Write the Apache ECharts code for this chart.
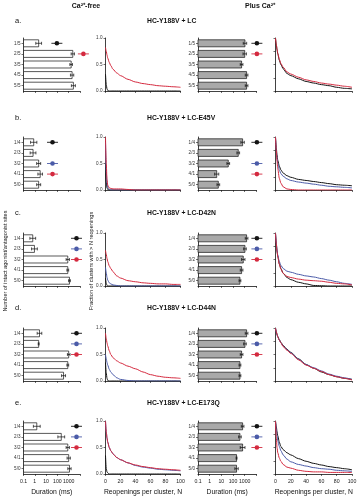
<!DOCTYPE html>
<html><head><meta charset="utf-8">
<script src="https://cdn.jsdelivr.net/npm/echarts@6/dist/echarts.min.js"></script>
<style>html,body{margin:0;padding:0;background:#fff}#c{width:360px;height:499px}</style>
</head><body><div id="c"></div>
<script>
// ---------- text ----------
const rowLetters = ['a.','b.','c.','d.','e.'];
const rowTitles = ['HC-Y188V + LC','HC-Y188V + LC-E45V','HC-Y188V + LC-D42N','HC-Y188V + LC-D44N','HC-Y188V + LC-E173Q'];
const catsA = ['1/5','2/5','3/5','4/5','5/5'];
const catsMut = ['1/4','2/3','3/2','4/1','5/0'];
// ---------- Ca-free durations (ms) and error factors ----------
const freeDurA = [2.2, 2300, 1650, 2000, 2600];  const freeErrA = [1.8,1.4,1.3,1.4,1.5];
const freeDurB = [0.8, 0.7, 2.2, 3.0, 2.2];       const freeErrB = [1.9,1.8,1.5,1.6,1.5];
const freeDurC = [0.66, 0.93, 830, 830, 1170];    const freeErrC = [1.8,1.8,1.4,1.2,1.2];
const freeDurD = [2.6, 2.2, 1000, 830, 350];      const freeErrD = [1.6,1.1,1.3,1.2,1.5];
const freeDurE = [1.5, 220, 830, 1000, 1170];     const freeErrE = [2.0,2.0,1.4,1.4,1.4];
// ---------- Plus Ca durations (ms) ----------
const plusDurA = [1050, 1000, 540, 1450, 1450];   const plusErrA = [1.4,1.4,1.3,1.3,1.3];
const plusDurB = [660, 280, 39, 4, 5.5];          const plusErrB = [1.4,1.3,1.3,1.5,1.3];
const plusDurC = [1450, 1050, 750, 540, 390];     const plusErrC = [1.3,1.3,1.4,1.3,1.2];
const plusDurD = [1450, 1050, 540, 390, 390];     const plusErrD = [1.3,1.3,1.3,1.2,1.2];
const plusDurE = [660, 390, 660, 200, 200];       const plusErrE = [1.3,1.3,1.6,1.1,1.4];
// ---------- key markers: [row, duration, colour key] ----------
const freeMarkA = [[0,90,'k'],[1,20000,'r']];
const freeMarkB = [[0,37,'k'],[2,37,'b'],[3,37,'r']];
const freeMarkC = [[0,4900,'k'],[1,4900,'b'],[2,4900,'r']];
const freeMarkD = [[0,4900,'k'],[1,4900,'b'],[2,4900,'r']];
const freeMarkE = [[0,4900,'k'],[1,4900,'b'],[2,4900,'r']];
const plusMarkA = [[0,11000,'k'],[1,11000,'r']];
const plusMarkB = [[0,11000,'k'],[2,11000,'b'],[3,11000,'r']];
const plusMarkC = [[0,11000,'k'],[1,11000,'b'],[2,11000,'r']];
const plusMarkD = [[0,11000,'k'],[1,11000,'b'],[2,11000,'r']];
const plusMarkE = [[0,11000,'k'],[1,11000,'b'],[2,11000,'r']];
// ---------- survival curves: fraction of clusters with > N reopenings ----------
const nPts = [0,1,2,3,5,7,10,15,20,30,40,50,60,70,80,90,100];
const freeA_k = [0.32,0.12,0.04,0.01,0,0,0,0,0,0,0,0,0,0,0,0,0];
const freeA_r = [0.82,0.75,0.68,0.62,0.54,0.48,0.41,0.34,0.29,0.22,0.17,0.14,0.12,0.10,0.09,0.08,0.07];
const plusA_k = [1.0,0.88,0.78,0.70,0.58,0.50,0.42,0.33,0.29,0.23,0.18,0.15,0.12,0.10,0.07,0.05,0.04];
const plusA_r = [1.0,0.88,0.79,0.71,0.60,0.52,0.45,0.36,0.32,0.26,0.21,0.18,0.15,0.13,0.11,0.09,0.07];
const freeB_k = [0.5,0.15,0.04,0.01,0,0,0,0,0,0,0,0,0,0,0,0,0];
const freeB_b = [0.9,0.35,0.12,0.05,0.01,0,0,0,0,0,0,0,0,0,0,0,0];
const freeB_r = [1.0,0.5,0.2,0.09,0.04,0.03,0.02,0.02,0.02,0.01,0,0,0,0,0,0,0];
const plusB_k = [1.0,0.80,0.66,0.56,0.45,0.38,0.32,0.27,0.24,0.20,0.18,0.16,0.14,0.12,0.10,0.09,0.08];
const plusB_b = [1.0,0.76,0.60,0.50,0.38,0.31,0.26,0.21,0.18,0.15,0.13,0.11,0.09,0.07,0.06,0.05,0.04];
const plusB_r = [1.0,0.75,0.55,0.40,0.22,0.13,0.06,0.02,0.01,0,0,0,0,0,0,0,0];
const freeC_k = [0.15,0.05,0.01,0,0,0,0,0,0,0,0,0,0,0,0,0,0];
const freeC_b = [0.35,0.25,0.16,0.11,0.06,0.04,0.02,0.01,0,0,0,0,0,0,0,0,0];
const freeC_r = [0.67,0.60,0.52,0.46,0.38,0.33,0.27,0.19,0.15,0.10,0.08,0.06,0.05,0.04,0.04,0.03,0.03];
const plusC_k = [1.0,0.80,0.66,0.56,0.42,0.33,0.24,0.16,0.12,0.07,0.04,0.01,0.005,0,0,0,0];
const plusC_b = [1.0,0.82,0.68,0.58,0.46,0.39,0.33,0.28,0.26,0.22,0.19,0.17,0.14,0.11,0.08,0.05,0.03];
const plusC_r = [1.0,0.80,0.65,0.55,0.41,0.32,0.24,0.18,0.16,0.13,0.11,0.10,0.09,0.07,0.05,0.04,0.02];
const freeD_k = [0.35,0.15,0.05,0.01,0,0,0,0,0,0,0,0,0,0,0,0,0];
const freeD_b = [0.5,0.42,0.35,0.30,0.22,0.17,0.12,0.06,0.03,0.01,0,0,0,0,0,0,0];
const freeD_r = [0.9,0.80,0.72,0.66,0.57,0.50,0.44,0.38,0.34,0.28,0.23,0.17,0.12,0.09,0.07,0.06,0.05];
const plusD_k = [1.0,0.93,0.88,0.84,0.78,0.73,0.67,0.60,0.54,0.42,0.31,0.24,0.17,0.12,0.08,0.05,0.03];
const plusD_b = [1.0,0.92,0.87,0.83,0.77,0.72,0.66,0.59,0.53,0.41,0.31,0.25,0.19,0.13,0.09,0.06,0.03];
const plusD_r = [1.0,0.93,0.88,0.83,0.77,0.72,0.65,0.58,0.52,0.40,0.30,0.24,0.18,0.12,0.08,0.05,0.02];
const freeE_k = [0.35,0.1,0.04,0.02,0,0,0,0,0,0,0,0,0,0,0,0,0];
const freeE_b = [1.0,0.80,0.68,0.60,0.50,0.44,0.38,0.31,0.27,0.21,0.16,0.13,0.11,0.09,0.08,0.07,0.06];
const freeE_r = [1.0,0.80,0.68,0.60,0.50,0.44,0.38,0.31,0.27,0.21,0.17,0.14,0.12,0.10,0.09,0.08,0.07];
const plusE_k = [1.0,0.90,0.80,0.72,0.60,0.52,0.46,0.40,0.36,0.29,0.24,0.20,0.17,0.14,0.12,0.10,0.08];
const plusE_b = [1.0,0.85,0.72,0.63,0.52,0.44,0.36,0.28,0.23,0.18,0.15,0.12,0.10,0.09,0.07,0.06,0.05];
const plusE_r = [1.0,0.70,0.50,0.40,0.30,0.24,0.18,0.13,0.11,0.07,0.05,0.04,0.04,0.03,0.03,0.03,0.03];

// ---------- layout / style ----------
const FONT = "'Liberation Sans', Arial, sans-serif";
const COL = {k:'#141414', b:'#4b5ba8', r:'#d42a3f'};
const rowTop = [38, 137, 233, 328, 421];
const rowH = 53;
const grids = [], xAxes = [], yAxes = [], series = [];

function axLine(){ return {show:true, lineStyle:{color:'#111', width:0.8}}; }
function axTick(){ return {show:true, length:2, lineStyle:{color:'#111', width:0.6}}; }

function barPanel(r, left, width, cats, vals, errs, marks, fill){
  const gi = grids.length, last = (r === 4);
  grids.push({left:left, top:rowTop[r], width:width, height:rowH});
  xAxes.push({gridIndex:gi, type:'log', logBase:10, min:0.1, max:10000, splitNumber:5,
    axisLine:axLine(), axisTick:axTick(), splitLine:{show:false},
    axisLabel:{show:last, fontSize:5.2, color:'#222', fontFamily:FONT, margin:5,
      formatter:function(v){ return v >= 9999 ? '' : (v < 1 ? '0.1' : String(Math.round(v))); }},
    name: last ? 'Duration (ms)' : '', nameLocation:'middle', nameGap:15,
    nameTextStyle:{fontSize:6.8, fontFamily:FONT, color:'#111'}});
  yAxes.push({gridIndex:gi, type:'category', data:cats, inverse:true,
    axisLine:axLine(), axisTick:Object.assign(axTick(), {alignWithLabel:true}),
    axisLabel:{fontSize:4.6, color:'#333', fontFamily:FONT, margin:3}, splitLine:{show:false}});
  series.push({type:'custom', xAxisIndex:gi, yAxisIndex:gi, silent:true,
    data: vals.map(function(v,i){ return [i, v]; }), encode:{x:1, y:0},
    renderItem:function(p, api){
      const c = api.value(0), v = api.value(1);
      const a = api.coord([0.1, c]), b = api.coord([v, c]);
      const band = Math.abs(api.coord([1,1])[1] - api.coord([1,0])[1]);
      const h = band * 0.66;
      return {type:'rect', shape:{x:a[0], y:a[1]-h/2, width:b[0]-a[0], height:h},
        style:{fill:fill, stroke:'#111', lineWidth:0.7}};
    }});
  series.push({type:'custom', xAxisIndex:gi, yAxisIndex:gi, silent:true,
    data: vals.map(function(v,i){ return [i, v/errs[i], v*errs[i]]; }), encode:{x:[1,2], y:0},
    renderItem:function(p, api){
      const c = api.value(0);
      const lo = api.coord([api.value(1), c]), hi = api.coord([api.value(2), c]);
      const s = {stroke:'#111', lineWidth:0.7};
      return {type:'group', children:[
        {type:'line', shape:{x1:lo[0], y1:lo[1], x2:hi[0], y2:hi[1]}, style:s},
        {type:'line', shape:{x1:hi[0], y1:hi[1]-1.5, x2:hi[0], y2:hi[1]+1.5}, style:s},
        {type:'line', shape:{x1:lo[0], y1:lo[1]-1.5, x2:lo[0], y2:lo[1]+1.5}, style:s}
      ]};
    }});
  series.push({type:'custom', xAxisIndex:gi, yAxisIndex:gi, silent:true, clip:false,
    data: marks.map(function(m){ return {value:[m[0], m[1]], itemStyle:{color:COL[m[2]]}}; }), encode:{x:1, y:0},
    renderItem:function(p, api){
      const pt = api.coord([api.value(1), api.value(0)]);
      const col = api.visual('color');
      return {type:'group', children:[
        {type:'line', shape:{x1:pt[0]-5.5, y1:pt[1], x2:pt[0]+5.5, y2:pt[1]}, style:{stroke:col, lineWidth:0.9}},
        {type:'circle', shape:{cx:pt[0], cy:pt[1], r:2.3}, style:{fill:col}}
      ]};
    }});
}

function curvePanel(r, left, width, curves, showY){
  const gi = grids.length, last = (r === 4);
  grids.push({left:left, top:rowTop[r], width:width, height:rowH});
  xAxes.push({gridIndex:gi, type:'value', min:0, max:100, interval:20,
    axisLine:axLine(), axisTick:axTick(), splitLine:{show:false},
    axisLabel:{show:last, fontSize:5.2, color:'#222', fontFamily:FONT, margin:5},
    name: last ? 'Reopenings per cluster, N' : '', nameLocation:'middle', nameGap:15,
    nameTextStyle:{fontSize:6.8, fontFamily:FONT, color:'#111'}});
  yAxes.push({gridIndex:gi, type:'value', min:0, max:1, interval: showY ? 0.5 : 0.25,
    axisLine:axLine(), axisTick:axTick(), splitLine:{show:false},
    axisLabel:{show:showY, fontSize:4.6, color:'#333', fontFamily:FONT, margin:3,
      formatter:function(v){ return v.toFixed(1); }}});
  curves.forEach(function(cv){
    series.push({type:'line', xAxisIndex:gi, yAxisIndex:gi, silent:true,
      data: nPts.map(function(n,i){ return [n, cv[0][i]]; }),
      showSymbol:false, symbol:'none', smooth:0.25, smoothMonotone:'x',
      lineStyle:{color:COL[cv[1]], width:1}});
  });
}

const freeDur = [freeDurA, freeDurB, freeDurC, freeDurD, freeDurE];
const freeErr = [freeErrA, freeErrB, freeErrC, freeErrD, freeErrE];
const plusDur = [plusDurA, plusDurB, plusDurC, plusDurD, plusDurE];
const plusErr = [plusErrA, plusErrB, plusErrC, plusErrD, plusErrE];
const freeMark = [freeMarkA, freeMarkB, freeMarkC, freeMarkD, freeMarkE];
const plusMark = [plusMarkA, plusMarkB, plusMarkC, plusMarkD, plusMarkE];
const freeCurves = [
  [[freeA_k,'k'],[freeA_r,'r']],
  [[freeB_k,'k'],[freeB_b,'b'],[freeB_r,'r']],
  [[freeC_k,'k'],[freeC_b,'b'],[freeC_r,'r']],
  [[freeD_k,'k'],[freeD_b,'b'],[freeD_r,'r']],
  [[freeE_k,'k'],[freeE_b,'b'],[freeE_r,'r']]
];
const plusCurves = [
  [[plusA_k,'k'],[plusA_r,'r']],
  [[plusB_k,'k'],[plusB_b,'b'],[plusB_r,'r']],
  [[plusC_k,'k'],[plusC_b,'b'],[plusC_r,'r']],
  [[plusD_k,'k'],[plusD_b,'b'],[plusD_r,'r']],
  [[plusE_k,'k'],[plusE_b,'b'],[plusE_r,'r']]
];

for (let r = 0; r < 5; r++) {
  const cats = r === 0 ? catsA : catsMut;
  barPanel(r, 23.5, 56.5, cats, freeDur[r], freeErr[r], freeMark[r], '#ffffff');
  curvePanel(r, 105.5, 75, freeCurves[r], true);
  barPanel(r, 198, 58.4, cats, plusDur[r], plusErr[r], plusMark[r], '#a9a9a9');
  curvePanel(r, 275.5, 76.5, plusCurves[r], false);
}

const rowTextY = [21, 118, 213, 308, 403];
const gfx = [
  {type:'text', x:86, y:6, style:{text:'Ca²⁺-free', fontSize:7, fontWeight:'bold', fontFamily:FONT, fill:'#111', textAlign:'center', textVerticalAlign:'middle', align:'center', verticalAlign:'middle'}},
  {type:'text', x:260, y:6, style:{text:'Plus Ca²⁺', fontSize:7, fontWeight:'bold', fontFamily:FONT, fill:'#111', textAlign:'center', textVerticalAlign:'middle', align:'center', verticalAlign:'middle'}},
  {type:'text', x:5, y:261, rotation:Math.PI/2, style:{text:'Number of intact agonist/antagonist sites', fontSize:5.6, fontFamily:FONT, fill:'#111', textAlign:'center', textVerticalAlign:'middle', align:'center', verticalAlign:'middle'}},
  {type:'text', x:91, y:261, rotation:Math.PI/2, style:{text:'Fraction of clusters with > N reopenings', fontSize:5.6, fontFamily:FONT, fill:'#111', textAlign:'center', textVerticalAlign:'middle', align:'center', verticalAlign:'middle'}}
];
for (let r = 0; r < 5; r++) {
  gfx.push({type:'text', x:15, y:rowTextY[r], style:{text:rowLetters[r], fontSize:7.5, fontFamily:FONT, fill:'#111', textAlign:'left', textVerticalAlign:'middle', align:'left', verticalAlign:'middle'}});
  gfx.push({type:'text', x:147, y:rowTextY[r], style:{text:rowTitles[r], fontSize:6.8, fontWeight:'bold', fontFamily:FONT, fill:'#111', textAlign:'left', textVerticalAlign:'middle', align:'left', verticalAlign:'middle'}});
}

const chart = echarts.init(document.getElementById('c'), null, {renderer:'canvas'});
chart.setOption({
  animation:false,
  backgroundColor:'#fff',
  textStyle:{fontFamily:FONT},
  grid:grids, xAxis:xAxes, yAxis:yAxes, series:series, graphic:gfx
});
</script></body></html>
